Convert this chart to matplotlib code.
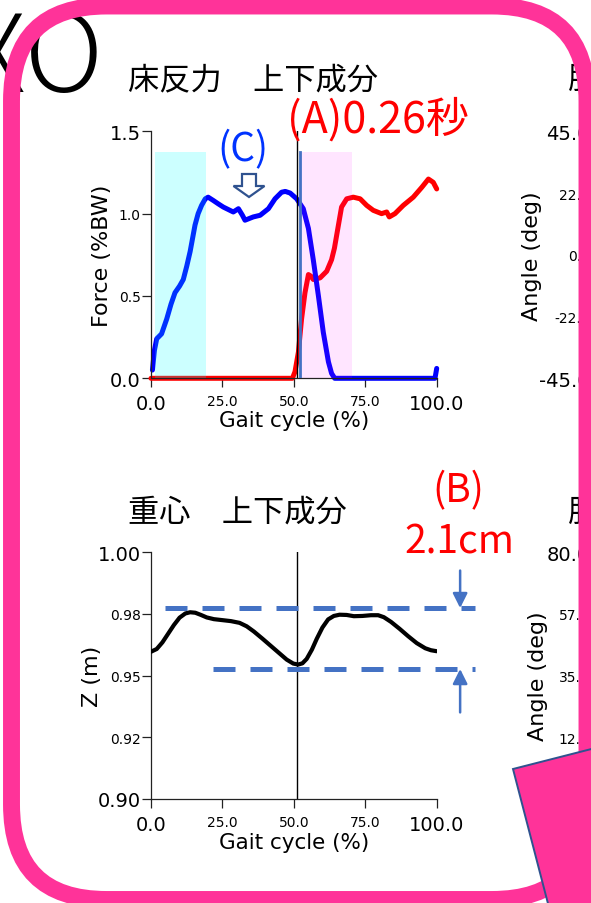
import matplotlib

matplotlib.use("Agg")
from matplotlib import pyplot as plt
from matplotlib.patches import FancyArrow, FancyBboxPatch, Polygon

plt.rcParams["font.family"] = ["DejaVu Sans"]
plt.rcParams["axes.unicode_minus"] = False
JP = ["Noto Sans CJK JP", "DejaVu Sans"]

# vertical ground reaction force (%BW) over one gait cycle
grf_left_x = [0.5, 1.2, 2.0, 3.7, 5.5, 7.0, 8.4, 10.0, 11.3, 12.5, 13.7, 15.4, 16.5, 17.7, 19.0,
              20.0, 21.8, 23.5, 25.3, 28.8, 30.6, 32.0, 32.9, 35.8, 38.2, 41.1, 43.4, 45.7, 47.0,
              48.7, 51.0, 53.3, 55.1, 56.8, 58.6, 60.3, 62.1, 63.2, 64.3, 99.4, 100.0]
grf_left_y = [0.05, 0.17, 0.24, 0.27, 0.36, 0.45, 0.52, 0.56, 0.60, 0.68, 0.77, 0.93, 1.00, 1.05, 1.09,
              1.10, 1.08, 1.06, 1.04, 1.01, 1.03, 0.99, 0.96, 0.98, 0.99, 1.03, 1.09, 1.13, 1.135,
              1.125, 1.09, 1.03, 0.91, 0.72, 0.50, 0.28, 0.10, 0.03, 0.0, 0.0, 0.06]
grf_right_x = [0.0, 49.5, 50.4, 51.6, 52.7, 53.9, 55.1, 56.0, 56.8, 59.2, 61.5, 63.2, 64.2, 65.0,
               66.0, 66.7, 68.5, 70.8, 73.2, 75.5, 77.8, 80.7, 82.5, 83.4, 85.4, 88.3, 91.8, 94.8,
               97.1, 98.8, 100.0]
grf_right_y = [0.0, 0.0, 0.04, 0.16, 0.36, 0.52, 0.63, 0.62, 0.60, 0.61, 0.65, 0.72, 0.79, 0.87,
               0.97, 1.04, 1.09, 1.10, 1.09, 1.05, 1.02, 1.00, 1.01, 0.98, 1.00, 1.05, 1.10, 1.16,
               1.21, 1.19, 1.15]

# double support phases and foot contact events (% gait cycle)
support_left = (1.4, 19.1)
support_right = (52.2, 70.4)
contact_black = 51.0
contact_blue = 52.2
support_top = 1.376

# vertical position of the centre of mass (m)
com_x = [0.0, 2.0, 4.0, 6.0, 8.0, 10.0, 12.0, 13.7, 15.5, 17.5, 19.5, 22.0, 25.0, 28.0, 31.0,
         33.5, 36.0, 39.0, 42.0, 45.0, 47.5, 49.8, 51.5, 53.0, 54.5, 56.3, 58.0, 60.0, 62.0,
         64.0, 66.0, 68.5, 71.0, 74.0, 77.0, 79.5, 81.5, 84.0, 87.0, 90.0, 93.0, 96.0, 98.0,
         100.0]
com_z = [0.9597, 0.9608, 0.9635, 0.9670, 0.9705, 0.9735, 0.9752, 0.9757, 0.9755, 0.9746, 0.9736,
         0.9729, 0.9725, 0.9721, 0.9714, 0.9700, 0.9679, 0.9650, 0.9620, 0.9590, 0.9565, 0.9549,
         0.9545, 0.9550, 0.9568, 0.9605, 0.9649, 0.9695, 0.9728, 0.9742, 0.9747, 0.9746, 0.9741,
         0.9742, 0.9745, 0.9745, 0.9737, 0.9718, 0.9690, 0.9660, 0.9632, 0.9611, 0.9603, 0.9599]

grf_ticks = [0.0, 0.5, 1.0, 1.5]
grf_labels = ["0.0", "0.5", "1.0", "1.5"]
com_ticks = [0.90, 0.925, 0.95, 0.975, 1.00]
com_labels = ["0.90", "0.92", "0.95", "0.98", "1.00"]
angle_top_ticks = [-45.0, -22.5, 0.0, 22.5, 45.0]
angle_top_labels = ["-45.0", "-22.5", "0.0", "22.5", "45.0"]
angle_bot_ticks = [-10.0, 12.5, 35.0, 57.5, 80.0]
angle_bot_labels = ["-10.0", "12.5", "35.0", "57.5", "80.0"]
cycle_ticks = [0, 25, 50, 75, 100]
cycle_labels = ["0.0", "25.0", "50.0", "75.0", "100.0"]

W, H = 591, 904
PINK = "#FF3399"
DASH_BLUE = "#4472C4"


def px_axes(fig, left, top, right, bottom, **kw):
    return fig.add_axes([left / W, 1 - bottom / H, (right - left) / W, (bottom - top) / H], **kw)


def style_axes(ax, yticks, ylabels, ylim, xlabels=True):
    for side in ("top", "right"):
        ax.spines[side].set_visible(False)
    for side in ("left", "bottom"):
        ax.spines[side].set_linewidth(0.9)
        ax.spines[side].set_color("#222222")
    ax.set_xlim(0, 100)
    ax.set_ylim(*ylim)
    ax.set_xticks(cycle_ticks)
    ax.set_xticklabels(cycle_labels if xlabels else [])
    ax.set_yticks(yticks)
    ax.set_yticklabels(ylabels)
    ax.tick_params(direction="out", length=6.5, width=0.9, color="#222222")
    ax.tick_params(axis="y", pad=1)
    ax.tick_params(axis="x", pad=5)
    for labels in (ax.get_xticklabels(), ax.get_yticklabels()):
        for i, lbl in enumerate(labels):
            lbl.set_fontsize(14 if i in (0, len(labels) - 1) else 10)
    ax.patch.set_alpha(0)


fig = plt.figure(figsize=(W / 100, H / 100), dpi=100)

# ground reaction force panel
ax1 = px_axes(fig, 151, 132.3, 436.7, 379.3)
style_axes(ax1, grf_ticks, grf_labels, (0, 1.5))
ax1.plot(grf_right_x, grf_right_y, color="#FF0000", lw=3.6, clip_on=False, zorder=2,
         solid_joinstyle="round", solid_capstyle="round")
ax1.plot(grf_left_x, grf_left_y, color="#0000FF", lw=3.6, clip_on=False, zorder=2,
         solid_joinstyle="round", solid_capstyle="round")
ax1.axvspan(*support_left, ymax=support_top / 1.5, color="#00FFFF", alpha=0.2, lw=0, zorder=3)
ax1.axvspan(*support_right, ymax=support_top / 1.5, color="#FF00FF", alpha=0.1, lw=0, zorder=3)
ax1.plot([contact_black, contact_black], [0, 1.5], color="black", lw=1.0, zorder=4)
ax1.plot([contact_blue, contact_blue], [0, support_top], color=DASH_BLUE, lw=2.0, zorder=4)
ax1.set_xlabel("Gait cycle (%)", fontsize=15.5)
ax1.set_ylabel("Force (%BW)", fontsize=16)
ax1.xaxis.set_label_coords(0.5, -0.13)
ax1.yaxis.set_label_coords(-0.135, 0.5)

# centre of mass panel
ax2 = px_axes(fig, 151, 553.3, 436.7, 800)
style_axes(ax2, com_ticks, com_labels, (0.90, 1.00))
ax2.plot(com_x, com_z, color="black", lw=3.0, zorder=3, solid_joinstyle="round",
         solid_capstyle="round")
ax2.plot([contact_black, contact_black], [0.90, 1.00], color="black", lw=1.0, zorder=2)
z_hi, z_lo = max(com_z), min(com_z)
ax2.plot([4.9, 113.4], [z_hi + 0.0017] * 2, color=DASH_BLUE, lw=3.6, ls=(0, (4.4, 3.0)),
         clip_on=False, zorder=4)
ax2.plot([21.8, 113.4], [z_lo - 0.0018] * 2, color=DASH_BLUE, lw=3.6, ls=(0, (4.4, 3.0)),
         clip_on=False, zorder=4)
ax2.annotate("", xy=(108.2, z_hi + 0.0017), xytext=(108.2, 0.9926), annotation_clip=False,
             arrowprops=dict(arrowstyle="-|>", color=DASH_BLUE, lw=1.8, mutation_scale=22,
                             shrinkA=0, shrinkB=0))
ax2.annotate("", xy=(108.2, z_lo - 0.0018), xytext=(108.2, 0.9351), annotation_clip=False,
             arrowprops=dict(arrowstyle="-|>", color=DASH_BLUE, lw=1.8, mutation_scale=22,
                             shrinkA=0, shrinkB=0))
ax2.set_xlabel("Gait cycle (%)", fontsize=15.5)
ax2.set_ylabel("Z (m)", fontsize=16)
ax2.xaxis.set_label_coords(0.5, -0.132)
ax2.yaxis.set_label_coords(-0.172, 0.5)

# joint angle panels, mostly cut off at the right edge
ax3 = px_axes(fig, 600, 132.3, 886, 379.3)
style_axes(ax3, angle_top_ticks, angle_top_labels, (-45, 45), xlabels=False)
ax3.set_ylabel("Angle (deg)", fontsize=16)
ax3.yaxis.set_label_coords((542 - 600) / 285.7, 0.5)
ax4 = px_axes(fig, 600, 553.3, 886, 800)
style_axes(ax4, angle_bot_ticks, angle_bot_labels, (-10, 80), xlabels=False)
ax4.set_ylabel("Angle (deg)", fontsize=16)
ax4.yaxis.set_label_coords((548 - 600) / 285.7, 0.5)

# overlay in pixel units for titles, callouts and the slide frame
ov = fig.add_axes([0, 0, 1, 1], zorder=10)
ov.set_xlim(0, W)
ov.set_ylim(H, 0)
ov.axis("off")
ov.patch.set_alpha(0)

ov.text(104, 92, "XO", fontsize=78, family=JP, fontweight="light", ha="right", va="baseline",
        zorder=1)
ov.text(128, 80, "床反力　上下成分", fontsize=22.5, family=JP, ha="left", va="center", zorder=1)
ov.text(128, 513, "重心　上下成分", fontsize=22.5, family=JP, ha="left", va="center", zorder=1)
ov.text(568, 80, "股関節", fontsize=22.5, family=JP, ha="left", va="center", zorder=1)
ov.text(568, 513, "股関節", fontsize=22.5, family=JP, ha="left", va="center", zorder=1)

ov.text(378, 120, "(A)0.26秒", fontsize=31, family=JP, color="#FF0000", ha="center",
        va="center", zorder=5)
ov.text(243, 150, "(C)", fontsize=28, family=JP, color="#0033FF", ha="center", va="center",
        zorder=5)
ov.add_patch(FancyArrow(249, 175, 0, 23, width=14, head_width=31, head_length=11,
                        length_includes_head=True, facecolor="white", edgecolor="#2F528F",
                        lw=1.6, zorder=5))
ov.text(458, 491, "(B)", fontsize=28, family=JP, color="#FF0000", ha="center", va="center",
        zorder=5)
ov.text(459, 543, f"{(z_hi - z_lo) * 100:.1f}cm", fontsize=28, family=JP, color="#FF0000",
        ha="center", va="center", zorder=5)

ov.add_patch(FancyBboxPatch((11.5, 7), 587 - 11.5, 900.5 - 7,
                            boxstyle="round,pad=0,rounding_size=95",
                            facecolor="none", edgecolor=PINK, lw=12.2, zorder=6))
ov.add_patch(Polygon([(513, 770), (713, 719), (765, 919), (565, 970)], closed=True,
                     facecolor=PINK, edgecolor="#2F528F", lw=1.4, zorder=7))

fig.savefig("out.png", dpi=100)
